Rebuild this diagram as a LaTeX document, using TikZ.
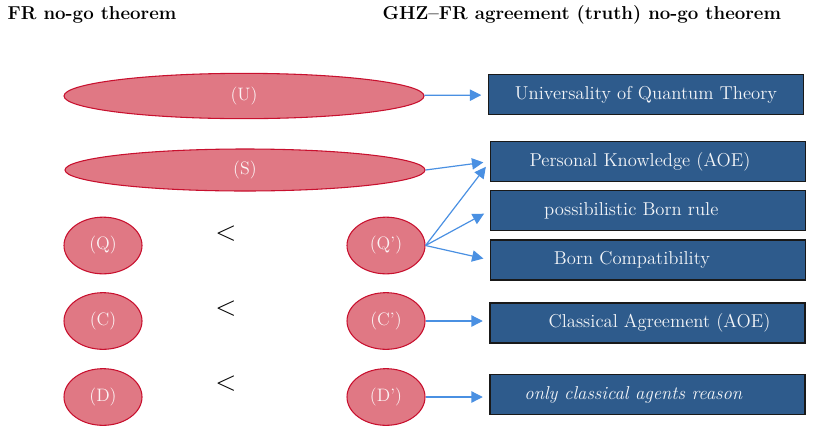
\documentclass[tikz,border=0pt]{standalone}
\usetikzlibrary{arrows.meta, shapes.geometric}
\definecolor{assumpfill}{HTML}{E07884}
\definecolor{assumpline}{HTML}{C8102E}
\definecolor{claimfill}{HTML}{2E5B8C}
\definecolor{linkblue}{HTML}{4A90E2}

\begin{document}
\begin{tikzpicture}[x=0.75pt, y=-0.75pt,
    assump/.style={ellipse, draw=assumpline, fill=assumpfill, line width=0.8pt,
      inner sep=0pt, text=white!92!assumpfill, font=\fontsize{13.5}{16}\selectfont},
    wideassump/.style={assump, minimum width=270pt},
    roundassump/.style={assump, minimum width=58.5pt, minimum height=42.5pt},
    claim/.style={draw=black!90, fill=claimfill, line width=1.1pt,
      minimum width=236pt, minimum height=30pt, inner sep=0pt,
      text=white!94!claimfill, font=\fontsize{14}{17}\selectfont},
    heading/.style={anchor=west, font=\fontsize{14}{17}\selectfont\bfseries},
    weaker/.style={font=\fontsize{21}{24}\selectfont},
    link/.style={->, draw=linkblue, line width=0.9pt, shorten >=5pt},
    >={Triangle[length=8.5pt, width=8.5pt]}]
  \useasboundingbox (0,0) rectangle (814,433);
  \node[heading] (frhead) at (3,15) {FR no-go theorem};
  \node[heading] (ghzhead) at (378,15) {GHZ--FR agreement (truth) no-go theorem};
  % assumptions of the two theorems
  \node[wideassump, minimum height=34pt] (u) at (244,96) {(U)};
  \node[wideassump, minimum height=31.5pt] (s) at (245,170) {(S)};
  \node[roundassump] (q) at (103,245.5) {(Q)};
  \node[roundassump] (c) at (103,321) {(C)};
  \node[roundassump] (d) at (103,397) {(D)};
  \node[roundassump] (qp) at (386,245.5) {(Q')};
  \node[roundassump] (cp) at (386,321) {(C')};
  \node[roundassump] (dp) at (386,397) {(D')};
  \node[weaker] (qless) at (226,233.5) {$<$};
  \node[weaker] (cless) at (226,309) {$<$};
  \node[weaker] (dless) at (226,384) {$<$};
  % what they stand for
  \node[claim] (uqt) at (646,94.5) {Universality of Quantum Theory};
  \node[claim] (pk) at (648,161.5) {Personal Knowledge (AOE)\hspace*{12pt}};
  \node[claim] (pbr) at (648,210.5) {possibilistic Born rule\hspace*{25pt}};
  \node[claim] (bc) at (648,260) {Born Compatibility\hspace*{24pt}};
  \node[claim] (ca) at (647.5,323) {\hspace*{18pt}Classical Agreement (AOE)};
  \node[claim] (ocar) at (647.5,394.5) {\textit{only classical agents reason}\hspace*{21pt}};
  \draw[link] (u) -- (uqt);
  \draw[link] (s.east) -- (pk.west);
  \foreach \b in {pk, pbr, bc} {
    \draw[link] (qp.east) -- (\b.west);
  }
  \draw[link] (cp.east) -- (cp.east -| ca.west);
  \draw[link] (dp.east) -- (dp.east -| ocar.west);
\end{tikzpicture}
\end{document}
